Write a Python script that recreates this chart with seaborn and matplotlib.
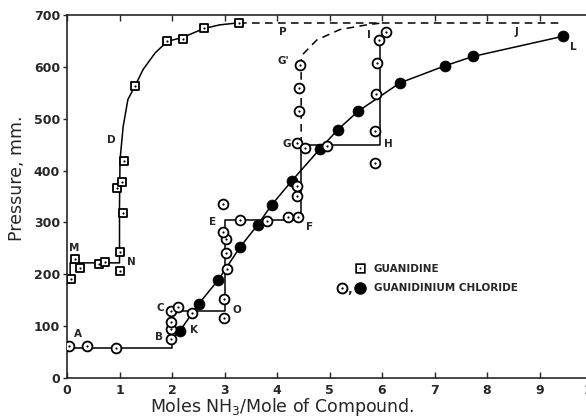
import numpy as np
import matplotlib
matplotlib.use("Agg")
import matplotlib.pyplot as plt
from matplotlib.path import Path
from matplotlib.lines import Line2D
from matplotlib.legend_handler import HandlerTuple
import seaborn as sns

# ---------------- data ----------------
# Guanidine (squares)
guan_x = [0.08, 0.15, 0.25, 0.61, 0.72, 1.00, 1.00, 1.07, 0.96, 1.04, 1.09, 1.30, 1.91, 2.21, 2.61, 3.28]
guan_y = [191, 230, 212, 220, 224, 207, 243, 318, 367, 378, 419, 564, 649, 654, 674, 685]
# guanidine curve (solid)
guan_line_x = [0.06, 0.06, 1.00, 1.00, 1.01, 1.07, 1.16, 1.30, 1.45, 1.68, 1.91, 2.21, 2.61, 2.91, 3.28]
guan_line_y = [191, 222, 222, 330, 421, 485, 537, 564, 595, 627, 649, 657, 674, 681, 685]
# dashed plateau P - J
plateau_x = [3.28, 9.37]
plateau_y = [684, 684]

# Guanidinium chloride, open circles
open_x = [0.04, 0.39, 0.93, 1.98, 1.98, 1.98, 1.98, 2.12, 2.38, 2.99, 2.99, 3.04, 3.03, 3.03, 2.97,
          2.97, 3.30, 3.80, 4.21, 4.40, 4.38, 4.38, 4.38, 4.53, 4.95, 4.42, 4.42, 4.44,
          5.87, 5.89, 5.91, 5.95, 6.07, 5.87]
open_y = [62, 62, 58, 75, 95, 108, 129, 136, 125, 116, 152, 210, 241, 268, 282,
          336, 305, 302, 311, 311, 350, 371, 454, 444, 448, 514, 560, 604,
          477, 548, 608, 651, 668, 415]
# step curve A-B-C-O-E-F-G-H-I (solid)
step_x = [0.00, 2.00, 2.00, 3.00, 3.00, 4.46, 4.46, 5.96, 5.96]
step_y = [58, 58, 129, 129, 305, 305, 450, 450, 652]
# dashed G - G' - top
gdash_x = [4.46, 4.46, 4.48, 4.76, 5.20, 5.71, 5.95]
gdash_y = [450, 610, 623, 652, 672, 681, 684]

# Guanidinium chloride, filled circles
fill_x = [2.15, 2.51, 2.88, 3.30, 3.63, 3.90, 4.28, 4.82, 5.16, 5.54, 6.34, 7.20, 7.73, 9.45]
fill_y = [91, 143, 189, 253, 295, 334, 380, 442, 479, 514, 569, 602, 620, 659]
fill_line_x = [2.00] + fill_x
fill_line_y = [75] + fill_y

# point letters
letters = ["M", "N", "D", "P", "G'", "G", "I", "J", "L", "H", "F", "E", "O", "C", "K", "B", "A"]
letter_x = [0.13, 1.22, 0.84, 4.11, 4.13, 4.19, 5.75, 8.57, 9.64, 6.13, 4.62, 2.78, 3.24, 1.77, 2.42, 1.75, 0.21]
letter_y = [251, 224, 458, 668, 612, 452, 662, 668, 639, 452, 292, 301, 131, 135, 92, 79, 85]

x_ticks = list(range(0, 11))
y_ticks = list(range(0, 701, 100))

# ---------------- style ----------------
sns.set_style("ticks")
plt.rcParams["font.family"] = ["DejaVu Sans"]

fig = plt.figure(figsize=(5.86, 4.19), dpi=100)
ax = fig.add_axes([67 / 586, 41 / 419, 525 / 586, 363 / 419])

lw = 1.1
def line(xs, ys, dashed=False):
    sns.lineplot(x=xs, y=ys, sort=False, estimator=None, color="k", lw=lw, ax=ax, zorder=2)
    if dashed:
        ax.lines[-1].set_dashes([5, 3.5])

line(guan_line_x, guan_line_y)
line(plateau_x, plateau_y, dashed=True)
line(step_x, step_y)
line(gdash_x, gdash_y, dashed=True)
line(fill_line_x, fill_line_y)

# markers
sns.scatterplot(x=fill_x, y=fill_y, marker="o", s=62, color="k", edgecolor="k", linewidth=0.5, ax=ax, zorder=4)
sns.scatterplot(x=open_x, y=open_y, marker="o", s=50, facecolor="white", edgecolor="k", linewidth=1.3, ax=ax, zorder=5)
sns.scatterplot(x=open_x, y=open_y, marker="o", s=2.5, color="k", edgecolor="k", linewidth=0, ax=ax, zorder=6)
sns.scatterplot(x=guan_x, y=guan_y, marker="s", s=40, facecolor="white", edgecolor="k", linewidth=1.3, ax=ax, zorder=5)
sns.scatterplot(x=guan_x, y=guan_y, marker="o", s=2.5, color="k", edgecolor="k", linewidth=0, ax=ax, zorder=6)

for t, xx, yy in zip(letters, letter_x, letter_y):
    ax.text(xx, yy, t, fontsize=7.5, fontweight="bold", ha="center", va="center", zorder=7)

# axes
ax.set_xlim(0, 10)
ax.set_ylim(0, 700)
ax.set_xticks(x_ticks)
ax.set_yticks(y_ticks)
ax.set_xticklabels([str(v) for v in x_ticks], fontsize=9, fontweight="bold")
ax.set_yticklabels([str(v) for v in y_ticks], fontsize=9, fontweight="bold")
ax.tick_params(axis="x", direction="in", length=4, width=1, top=True, pad=4)
ax.tick_params(axis="y", direction="out", length=3, width=1, right=True, pad=2)
for side in ["top", "right", "left", "bottom"]:
    ax.spines[side].set_visible(True)
    ax.spines[side].set_linewidth(1.2)

ax.set_xlabel("Moles NH$_3$/Mole of Compound.", fontsize=12.5)
ax.set_ylabel("Pressure, mm.", fontsize=12.5)
ax.xaxis.set_label_coords(0.41, -0.05)
ax.yaxis.set_label_coords(-0.078, 0.55)

# legend
def ring(square=False):
    if square:
        sq = np.array([[-1, -1], [1, -1], [1, 1], [-1, 1], [-1, -1]], float)
        outer = sq
        inner = (sq * 0.68)[::-1]
    else:
        t = np.linspace(0, 2 * np.pi, 61)
        c = np.column_stack([np.cos(t), np.sin(t)])
        outer = c
        inner = (c * 0.68)[::-1]
    t = np.linspace(0, 2 * np.pi, 31)
    dot = 0.2 * np.column_stack([np.cos(t), np.sin(t)])
    verts, codes = [], []
    for poly in (outer, inner, dot):
        verts.extend(poly.tolist())
        codes.extend([Path.MOVETO] + [Path.LINETO] * (len(poly) - 2) + [Path.CLOSEPOLY])
    return Path(verts, codes)

blank = Line2D([], [], linestyle="none")
h_sq = Line2D([], [], marker=ring(True), color="k", linestyle="none", markersize=7.5, markeredgewidth=0)
h_oc = Line2D([], [], marker=ring(False), color="k", linestyle="none", markersize=8.5, markeredgewidth=0)
h_fc = Line2D([], [], marker="o", color="k", linestyle="none", markersize=8)
leg = ax.legend([(blank, h_sq), (h_oc, h_fc)], ["GUANIDINE", "GUANIDINIUM CHLORIDE"],
                handler_map={tuple: HandlerTuple(ndivide=None, pad=0.5)},
                frameon=False, loc="upper left", bbox_to_anchor=(335 / 586, 1 - 264 / 419),
                bbox_transform=fig.transFigure, borderpad=0, borderaxespad=0,
                handlelength=3.0, handletextpad=0.7, labelspacing=0.9,
                prop=dict(weight="bold", size=7.5))
fig.text(350 / 586, 1 - 293 / 419, ",", fontsize=9, fontweight="bold", ha="center", va="baseline")

fig.savefig("out.png", dpi=100)
